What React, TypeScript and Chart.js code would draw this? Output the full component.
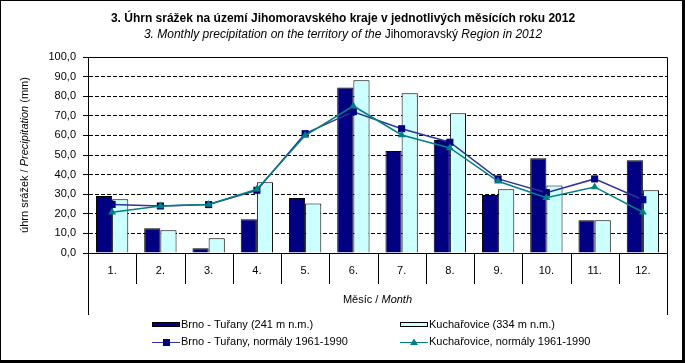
import React, { useEffect, useRef } from "react";
import { Chart, registerables } from "chart.js";

Chart.register(...registerables);

const months = ["1.", "2.", "3.", "4.", "5.", "6.", "7.", "8.", "9.", "10.", "11.", "12."];
const brnoValues = [29.1, 12.6, 2.4, 17.2, 28.1, 84.5, 52.0, 57.7, 29.6, 48.3, 16.7, 47.3];
const kuchValues = [27.4, 11.6, 7.5, 36.1, 25.3, 88.1, 81.5, 71.3, 32.5, 34.5, 16.7, 32.0];
const brnoNormals = [24.8, 24.0, 24.7, 32.0, 60.9, 72.1, 63.4, 56.5, 37.8, 30.8, 37.8, 27.2];
const kuchNormals = [20.8, 24.0, 24.8, 32.5, 59.9, 75.0, 60.2, 53.6, 36.6, 28.2, 33.7, 20.8];

const seriesLabels = [
  "Brno - Tuřany (241 m n.m.)",
  "Kuchařovice (334 m n.m.)",
  "Brno - Tuřany, normály 1961-1990",
  "Kuchařovice, normály 1961-1990",
];

const FONT = "'Liberation Sans', Arial, sans-serif";
const NAVY = "#000080";
const CYAN = "#CCFFFF";
const LINE_BLUE = "#333399";
const TEAL = "#008080";

type Part = { text: string; font: string };

function drawMixed(ctx: CanvasRenderingContext2D, parts: Part[], x: number, y: number) {
  let total = 0;
  const widths = parts.map((p) => {
    ctx.font = p.font;
    const w = ctx.measureText(p.text).width;
    total += w;
    return w;
  });
  let cx = x - total / 2;
  ctx.textAlign = "left";
  ctx.textBaseline = "middle";
  parts.forEach((p, i) => {
    ctx.font = p.font;
    ctx.fillText(p.text, cx, y);
    cx += widths[i];
  });
}

const decorPlugin = {
  id: "decor",
  beforeDraw(chart: any) {
    const ctx = chart.ctx as CanvasRenderingContext2D;
    ctx.save();
    ctx.fillStyle = "#ffffff";
    ctx.fillRect(0, 0, chart.width, chart.height);
    ctx.restore();
  },
  afterDraw(chart: any) {
    const ctx = chart.ctx as CanvasRenderingContext2D;
    const area = chart.chartArea;
    const xs = chart.scales.x;
    ctx.save();
    ctx.fillStyle = "#000";
    ctx.strokeStyle = "#000";
    ctx.lineWidth = 1;

    // plot area frame
    const L = Math.round(area.left) + 0.5;
    const R = Math.round(area.right) + 0.5;
    const T = Math.round(area.top) + 0.5;
    const B = Math.round(area.bottom) + 0.5;
    ctx.beginPath();
    ctx.moveTo(L, B);
    ctx.lineTo(L, T);
    ctx.lineTo(R, T);
    ctx.lineTo(R, B);
    ctx.lineTo(L, B);
    // side frame lines extending below the axis
    ctx.moveTo(L, B);
    ctx.lineTo(L, 315);
    ctx.moveTo(R, B);
    ctx.lineTo(R, 315);
    // category dividers
    for (let i = 1; i < months.length; i++) {
      const px = Math.round((xs.getPixelForValue(i - 1) + xs.getPixelForValue(i)) / 2) + 0.5;
      ctx.moveTo(px, B);
      ctx.lineTo(px, 284);
    }
    ctx.stroke();

    // titles
    drawMixed(ctx, [{ text: "3. Úhrn srážek na území Jihomoravského kraje v jednotlivých měsících roku 2012", font: `bold 12px ${FONT}` }], 343, 19);
    drawMixed(
      ctx,
      [
        { text: "3. Monthly precipitation on the territory of the ", font: `italic 12px ${FONT}` },
        { text: "Jihomoravský", font: `12px ${FONT}` },
        { text: " Region in 2012", font: `italic 12px ${FONT}` },
      ],
      343,
      35
    );

    // axis titles
    drawMixed(
      ctx,
      [
        { text: "Měsíc / ", font: `11px ${FONT}` },
        { text: "Month", font: `italic 11px ${FONT}` },
      ],
      (area.left + area.right) / 2,
      300
    );
    ctx.save();
    ctx.translate(25, 155);
    ctx.rotate(-Math.PI / 2);
    drawMixed(
      ctx,
      [
        { text: "úhrn srážek / ", font: `11px ${FONT}` },
        { text: "Precipitation", font: `italic 11px ${FONT}` },
        { text: " (mm)", font: `11px ${FONT}` },
      ],
      0,
      0
    );
    ctx.restore();

    // legend
    const ds = chart.data.datasets;
    ctx.font = `11px ${FONT}`;
    ctx.textAlign = "left";
    ctx.textBaseline = "middle";
    const cols = [152, 400];
    const rows = [325, 342];
    // bar swatches
    [0, 1].forEach((i) => {
      const x = cols[i];
      const y = rows[0];
      ctx.fillStyle = ds[i].backgroundColor;
      ctx.fillRect(x, y - 3, 28, 5);
      ctx.strokeStyle = "#000";
      ctx.strokeRect(x + 0.5, y - 2.5, 27, 4);
      ctx.fillStyle = "#000";
      ctx.fillText(ds[i].label, x + 29, y);
    });
    // line swatches
    [2, 3].forEach((i, k) => {
      const x = cols[k];
      const y = rows[1];
      ctx.strokeStyle = ds[i].borderColor;
      ctx.lineWidth = 1;
      ctx.beginPath();
      ctx.moveTo(x, y + 0.5);
      ctx.lineTo(x + 28, y + 0.5);
      ctx.stroke();
      ctx.fillStyle = ds[i].pointBackgroundColor;
      const cx = x + 14;
      if (ds[i].pointStyle === "rect") {
        ctx.fillRect(cx - 3, y - 3, 7, 7);
      } else {
        ctx.beginPath();
        ctx.moveTo(cx, y - 3.5);
        ctx.lineTo(cx + 4, y + 3);
        ctx.lineTo(cx - 4, y + 3);
        ctx.closePath();
        ctx.fill();
      }
      ctx.fillStyle = "#000";
      ctx.font = `11px ${FONT}`;
      ctx.fillText(ds[i].label, x + 29, y);
    });

    // outer border with shadow
    ctx.fillStyle = "#000";
    ctx.fillRect(0, 0, 1, chart.height);
    ctx.fillRect(0, 0, chart.width, 1);
    ctx.fillRect(chart.width - 3, 0, 3, chart.height);
    ctx.fillRect(0, chart.height - 3, chart.width, 3);
    ctx.restore();
  },
};

export default function App() {
  const ref = useRef<HTMLCanvasElement>(null);
  useEffect(() => {
    if (!ref.current) return;
    const chart = new Chart(ref.current, {
      type: "bar",
      data: {
        labels: months,
        datasets: [
          {
            type: "bar",
            label: seriesLabels[0],
            data: brnoValues,
            backgroundColor: NAVY,
            borderColor: "#000",
            borderWidth: 1,
            categoryPercentage: 0.67,
            barPercentage: 1,
            order: 3,
          },
          {
            type: "bar",
            label: seriesLabels[1],
            data: kuchValues,
            backgroundColor: CYAN,
            borderColor: "#000",
            borderWidth: 1,
            categoryPercentage: 0.67,
            barPercentage: 1,
            order: 3,
          },
          {
            type: "line",
            label: seriesLabels[2],
            data: brnoNormals,
            borderColor: LINE_BLUE,
            borderWidth: 1.5,
            pointStyle: "rect",
            pointRadius: 5,
            pointBackgroundColor: NAVY,
            pointBorderColor: NAVY,
            pointBorderWidth: 0,
            order: 2,
          } as any,
          {
            type: "line",
            label: seriesLabels[3],
            data: kuchNormals,
            borderColor: TEAL,
            borderWidth: 1.5,
            pointStyle: "triangle",
            pointRadius: 4.5,
            pointBackgroundColor: TEAL,
            pointBorderColor: TEAL,
            pointBorderWidth: 0,
            order: 1,
          } as any,
        ],
      },
      options: {
        responsive: false,
        animation: false,
        devicePixelRatio: 1,
        layout: { padding: { top: 57, right: 18, left: 0, bottom: 0 } },
        plugins: { legend: { display: false }, tooltip: { enabled: false }, title: { display: false } },
        scales: {
          x: {
            grid: { display: false, drawTicks: false },
            border: { display: false },
            ticks: { color: "#000", font: { family: FONT, size: 11 }, padding: 11, maxRotation: 0 },
            afterFit: (s: any) => {
              s.height = 110;
            },
          },
          y: {
            min: 0,
            max: 100,
            ticks: {
              stepSize: 10,
              color: "#000",
              font: { family: FONT, size: 11 },
              padding: 7,
              callback: (v: any) => Number(v).toFixed(1).replace(".", ","),
            },
            grid: {
              color: (c: any) => (c.tick && (c.tick.value === 0 || c.tick.value === 100) ? "rgba(0,0,0,0)" : "#000"),
              borderDash: [4, 2],
              tickLength: 5,
              tickColor: "#000",
              tickBorderDash: [],
              lineWidth: 1,
            } as any,
            border: { display: true, color: "#000", dash: [4, 2] } as any,
            afterFit: (s: any) => {
              s.width = 88;
            },
          },
        },
      },
      plugins: [decorPlugin],
    });
    return () => chart.destroy();
  }, []);
  return (
    <div style={{ position: "absolute", left: 0, top: 0, width: 685, height: 363 }}>
      <canvas ref={ref} width={685} height={363} style={{ display: "block", width: 685, height: 363 }} />
    </div>
  );
}
